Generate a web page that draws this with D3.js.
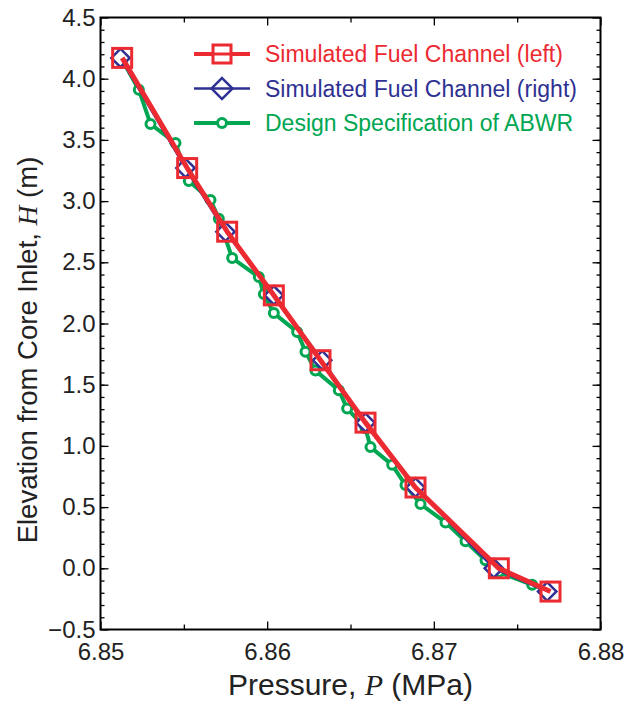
<!DOCTYPE html>
<html>
<head>
<meta charset="utf-8">
<script src="https://cdn.jsdelivr.net/npm/d3@7"></script>
<style>
  body { margin: 0; background: #fff; }
  text { font-family: "Liberation Sans", Arial, sans-serif; }
</style>
</head>
<body>
<div id="chart"></div>
<script>
// simulated fuel channels: same elevations, two pressure sets
var elevation = [4.17, 3.27, 2.75, 2.23, 1.70, 1.19, 0.66, 0.00, -0.19];
var pressureLeft = [6.8513, 6.8552, 6.8576, 6.8604, 6.8632, 6.8659, 6.8689, 6.8739, 6.8770];
var pressureRight = [6.8512, 6.8551, 6.8575, 6.8604, 6.8633, 6.8659, 6.8689, 6.8736, 6.8768];

// ABWR design specification
var designPressure = [6.8513, 6.8523, 6.8530, 6.8545, 6.8553, 6.8566, 6.8571, 6.8579, 6.8595,
  6.8598, 6.8604, 6.8618, 6.8623, 6.8629, 6.8643, 6.8648, 6.8659, 6.8662, 6.8675, 6.8683,
  6.8692, 6.8707, 6.8719, 6.8731, 6.8739, 6.8759];
var designElevation = [4.155, 3.91, 3.63, 3.475, 3.165, 3.01, 2.855, 2.535, 2.38,
  2.24, 2.085, 1.93, 1.77, 1.615, 1.455, 1.305, 1.145, 0.99, 0.845, 0.68,
  0.525, 0.375, 0.22, 0.065, -0.03, -0.135];

var xTicks = [6.85, 6.86, 6.87, 6.88];
var xMinor = [6.855, 6.865, 6.875];
var yTicks = [-0.5, 0, 0.5, 1, 1.5, 2, 2.5, 3, 3.5, 4, 4.5];
var yMinor = d3.range(-4, 45).map(function(d) { return d / 10; });
var legendLabels = ["Simulated Fuel Channel (left)", "Simulated Fuel Channel (right)", "Design Specification of ABWR"];

var red = "#ec2a32", blue = "#2e3192", green = "#00a651";

var width = 635, height = 704;
var margin = { top: 17.5, right: 34.5, bottom: 74.5, left: 100.5 };

var svg = d3.select("#chart").append("svg")
    .attr("width", width)
    .attr("height", height);

var x = d3.scaleLinear().domain([6.85, 6.88]).range([margin.left, width - margin.right]);
var y = d3.scaleLinear().domain([-0.5, 4.5]).range([height - margin.bottom, margin.top]);

// axes, ticks point inwards on all four sides
function styleAxis(g) {
  g.select(".domain").remove();
  g.selectAll(".tick line").attr("stroke", "#000").attr("stroke-width", 1.3);
  g.selectAll("text").attr("fill", "#222").style("font-size", "24px");
}

svg.append("g")
    .attr("transform", "translate(0," + y.range()[0] + ")")
    .call(d3.axisBottom(x).tickValues(xTicks).tickFormat(d3.format(".2f")).tickSize(-8).tickPadding(13))
    .call(styleAxis);
svg.append("g")
    .attr("transform", "translate(0," + y.range()[0] + ")")
    .call(d3.axisBottom(x).tickValues(xMinor).tickFormat("").tickSize(-5))
    .call(styleAxis);
svg.append("g")
    .attr("transform", "translate(0," + y.range()[1] + ")")
    .call(d3.axisTop(x).tickValues(xTicks).tickFormat("").tickSize(-8))
    .call(styleAxis);
svg.append("g")
    .attr("transform", "translate(0," + y.range()[1] + ")")
    .call(d3.axisTop(x).tickValues(xMinor).tickFormat("").tickSize(-5))
    .call(styleAxis);

svg.append("g")
    .attr("transform", "translate(" + x.range()[0] + ",0)")
    .call(d3.axisLeft(y).tickValues(yTicks).tickFormat(d3.format(".1f")).tickSize(-8).tickPadding(5))
    .call(styleAxis);
svg.append("g")
    .attr("transform", "translate(" + x.range()[0] + ",0)")
    .call(d3.axisLeft(y).tickValues(yMinor).tickFormat("").tickSize(-4))
    .call(styleAxis);
svg.append("g")
    .attr("transform", "translate(" + x.range()[1] + ",0)")
    .call(d3.axisRight(y).tickValues(yTicks).tickFormat("").tickSize(-8))
    .call(styleAxis);
svg.append("g")
    .attr("transform", "translate(" + x.range()[1] + ",0)")
    .call(d3.axisRight(y).tickValues(yMinor).tickFormat("").tickSize(-4))
    .call(styleAxis);

svg.append("rect")
    .attr("x", x.range()[0]).attr("y", y.range()[1])
    .attr("width", x.range()[1] - x.range()[0])
    .attr("height", y.range()[0] - y.range()[1])
    .attr("fill", "none").attr("stroke", "#000").attr("stroke-width", 2);

// axis titles
var xTitle = svg.append("text")
    .attr("x", (x.range()[0] + x.range()[1]) / 2)
    .attr("y", 695)
    .attr("text-anchor", "middle")
    .attr("fill", "#222")
    .style("font-size", "30px");
xTitle.append("tspan").text("Pressure, ");
xTitle.append("tspan").style("font-family", "'Liberation Serif', serif").style("font-style", "italic").text("P");
xTitle.append("tspan").text(" (MPa)");

var yTitle = svg.append("text")
    .attr("transform", "translate(37," + 350 + ") rotate(-90)")
    .attr("text-anchor", "middle")
    .attr("fill", "#222")
    .style("font-size", "27.5px");
yTitle.append("tspan").text("Elevation from Core Inlet,  ");
yTitle.append("tspan").style("font-family", "'Liberation Serif', serif").style("font-style", "italic").text("H");
yTitle.append("tspan").text(" (m)");

// design spec line
var line = d3.line().x(function(d) { return x(d[0]); }).y(function(d) { return y(d[1]); });
var designPts = designPressure.map(function(p, i) { return [p, designElevation[i]]; });
var rightPts = pressureRight.map(function(p, i) { return [p, elevation[i]]; });
var leftPts = pressureLeft.map(function(p, i) { return [p, elevation[i]]; });

svg.append("path").datum(designPts).attr("d", line)
    .attr("fill", "none").attr("stroke", green).attr("stroke-width", 4);
svg.selectAll(".dc").data(designPts).enter().append("circle")
    .attr("cx", function(d) { return x(d[0]); })
    .attr("cy", function(d) { return y(d[1]); })
    .attr("r", 4.5)
    .attr("fill", "#fff").attr("stroke", green).attr("stroke-width", 3);

svg.append("path").datum(rightPts).attr("d", line)
    .attr("fill", "none").attr("stroke", blue).attr("stroke-width", 2.5);
var diamond = d3.symbol().type(d3.symbolSquare).size(170);
svg.selectAll(".rd").data(rightPts).enter().append("path")
    .attr("d", diamond)
    .attr("transform", function(d) { return "translate(" + x(d[0]) + "," + y(d[1]) + ") rotate(45)"; })
    .attr("fill", "#fff").attr("stroke", blue).attr("stroke-width", 2.5);

svg.append("path").datum(leftPts).attr("d", line)
    .attr("fill", "none").attr("stroke", red).attr("stroke-width", 5);
svg.selectAll(".ls").data(leftPts).enter().append("rect")
    .attr("x", function(d) { return x(d[0]) - 9.5; })
    .attr("y", function(d) { return y(d[1]) - 9.5; })
    .attr("width", 19).attr("height", 19)
    .attr("fill", "none").attr("stroke", red).attr("stroke-width", 3);

// legend
var legendColors = [red, blue, green];
var legend = svg.append("g").attr("transform", "translate(194,54)");
var rows = legend.selectAll("g").data(legendLabels).enter().append("g")
    .attr("transform", function(d, i) { return "translate(0," + i * 34.5 + ")"; });
rows.append("line")
    .attr("x1", 0).attr("x2", 56)
    .attr("stroke", function(d, i) { return legendColors[i]; })
    .attr("stroke-width", function(d, i) { return [4, 2.5, 4][i]; });
rows.filter(function(d, i) { return i === 0; }).append("rect")
    .attr("x", 19).attr("y", -9).attr("width", 18).attr("height", 18)
    .attr("fill", "#fff").attr("stroke", red).attr("stroke-width", 3);
rows.filter(function(d, i) { return i === 0; }).append("line")
    .attr("x1", 19).attr("x2", 37).attr("stroke", red).attr("stroke-width", 3);
rows.filter(function(d, i) { return i === 1; }).append("path")
    .attr("d", d3.symbol().type(d3.symbolSquare).size(220))
    .attr("transform", "translate(28,0) rotate(45)")
    .attr("fill", "#fff").attr("stroke", blue).attr("stroke-width", 2.5);
rows.filter(function(d, i) { return i === 1; }).append("line")
    .attr("x1", 18).attr("x2", 38).attr("stroke", blue).attr("stroke-width", 2.5);
rows.filter(function(d, i) { return i === 2; }).append("circle")
    .attr("cx", 28).attr("r", 4.5)
    .attr("fill", "#fff").attr("stroke", green).attr("stroke-width", 3);
rows.append("text")
    .attr("x", 71).attr("dy", "0.35em")
    .attr("fill", function(d, i) { return legendColors[i]; })
    .style("font-size", "23px")
    .text(function(d) { return d; });
</script>
</body>
</html>
